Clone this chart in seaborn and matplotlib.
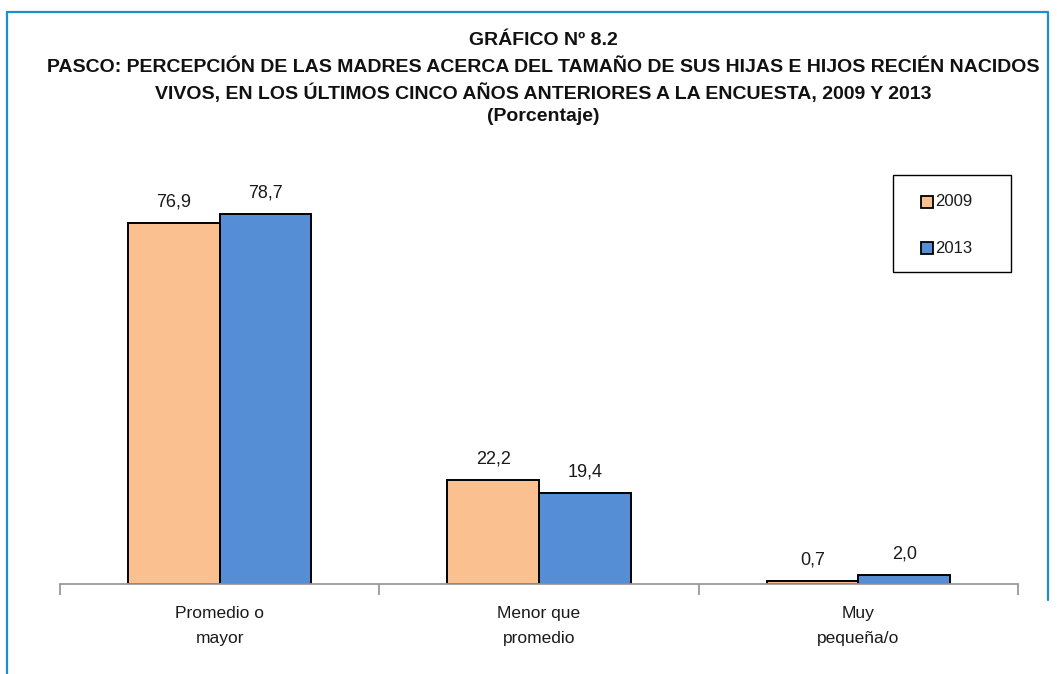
import pandas as pd
import numpy as np
import matplotlib.pyplot as plt
import seaborn as sns
from matplotlib.patches import Rectangle
from matplotlib.lines import Line2D

categorias = ["Promedio o\nmayor", "Menor que\npromedio", "Muy\npequeña/o"]
anios = ["2009", "2013"]
valores_2009 = [76.9, 22.2, 0.7]
valores_2013 = [78.7, 19.4, 2.0]
colores = ["#FAC090", "#558ED5"]
titulo = ["GRÁFICO Nº 8.2",
          "PASCO: PERCEPCIÓN DE LAS MADRES ACERCA DEL TAMAÑO DE SUS HIJAS E HIJOS RECIÉN NACIDOS",
          "VIVOS, EN LOS ÚLTIMOS CINCO AÑOS ANTERIORES A LA ENCUESTA, 2009 Y 2013",
          "(Porcentaje)"]

df = pd.DataFrame({
    "Categoria": categorias * 2,
    "Anio": [anios[0]] * 3 + [anios[1]] * 3,
    "Valor": valores_2009 + valores_2013,
})

sns.set_style("white")
plt.rcParams["font.family"] = ["Liberation Sans", "DejaVu Sans"]

W, H = 1057, 674
fig = plt.figure(figsize=(W / 100, H / 100), dpi=100)
ax = fig.add_axes([60 / W, 1 - 584 / H, 958 / W, 423 / H])

sns.barplot(data=df, x="Categoria", y="Valor", hue="Anio", palette=colores,
            saturation=1, width=0.575, edgecolor="black", linewidth=1.4,
            ax=ax, legend=False)

ax.set_xlim(-0.5, 2.5)
ax.set_ylim(0, 90)
ax.set_xlabel("")
ax.set_ylabel("")
ax.set_yticks([])
for s in ["top", "right", "left"]:
    ax.spines[s].set_visible(False)
ax.spines["bottom"].set_color("#9A9A9A")
ax.spines["bottom"].set_linewidth(1.3)
ax.set_xticks([-0.5, 0.5, 1.5, 2.5])
ax.set_xticklabels([])
ax.tick_params(axis="x", bottom=True, length=8, color="#9A9A9A", width=1.3, direction="out")

# etiquetas de categorias (una linea cada vez)
xt = ax.get_xaxis_transform()
for i, c in enumerate(categorias):
    for k, linea in enumerate(c.split("\n")):
        ypx = 618 + 25 * k
        ax.text(i, -(ypx - 584) / 423, linea, transform=xt, ha="center",
                va="baseline", fontsize=12.5, color="#1A1A1A")

# etiquetas de valores
for cont in ax.containers:
    ax.bar_label(cont, fmt=lambda v: f"{v:.1f}".replace(".", ","),
                 padding=9, fontsize=13, color="#1A1A1A")

# leyenda
fig.add_artist(Rectangle((893 / W, 1 - 272 / H), 118 / W, 97 / H,
                         transform=fig.transFigure, facecolor="white",
                         edgecolor="black", linewidth=1.0))
for k, anio in enumerate(anios):
    yc = 1 - (202 + 46 * k) / H
    fig.add_artist(Line2D([926.5 / W], [yc], marker="s", linestyle="",
                          markersize=8.5, markerfacecolor=colores[k],
                          markeredgecolor="black", markeredgewidth=1.3,
                          transform=fig.transFigure))
    fig.text(935 / W, yc, anio, ha="left", va="center", fontsize=12, color="#1A1A1A")

# titulo
for k, linea in enumerate(titulo):
    base = [45, 72, 99, 121][k]
    fig.text(543 / W, 1 - base / H, linea, ha="center", va="baseline",
             fontsize=14, fontweight="bold", color="#111111")

# marco azul
fig.add_artist(Line2D([7 / W, 7 / W], [0, 1 - 12 / H], transform=fig.transFigure,
                      color="#1F8FC8", linewidth=1.6))
fig.add_artist(Line2D([7 / W, 1048 / W, 1048 / W], [1 - 12 / H, 1 - 12 / H, 1 - 600 / H],
                      transform=fig.transFigure, color="#1F8FC8", linewidth=1.6))

plt.savefig("out.png", dpi=100)
